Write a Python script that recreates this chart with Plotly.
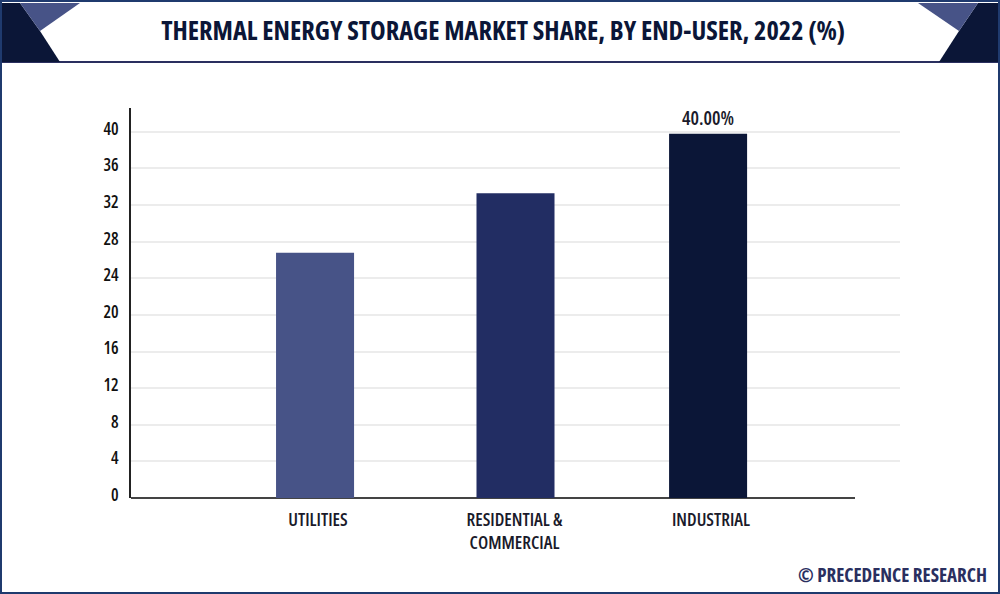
import plotly.graph_objects as go

categories = ['UTILITIES', 'RESIDENTIAL &<br>COMMERCIAL', 'INDUSTRIAL']
shares = [26.8, 33.3, 39.8]
bar_labels = ['', '', '40.00%']
bar_colors = ['#475387', '#222d63', '#0b1637']
y_ticks = [0, 4, 8, 12, 16, 20, 24, 28, 32, 36, 40]

title = 'THERMAL ENERGY STORAGE MARKET SHARE, BY END-USER, 2022 (%)'
credit = '© PRECEDENCE RESEARCH'

WIDTH = 1000
HEIGHT = 594
FONT = 'Open Sans'
DARK = '#0b1637'

# open sans is variable here, squeeze it to look like the narrow caps in the original
CONDENSE = """
document.body.style.margin = '0';
document.querySelectorAll('text').forEach(function (t) { t.style.fontStretch = '75%'; });
"""


def px(x, y):
    # page pixels to paper fractions, margins are zero
    return x / WIDTH, 1 - y / HEIGHT


def polygon(points, color):
    path = ''
    for i, (x, y) in enumerate(points):
        fx, fy = px(x, y)
        path += ('M' if i == 0 else 'L') + f'{fx:.4f},{fy:.4f} '
    return dict(type='path', path=path + 'Z', xref='paper', yref='paper',
                fillcolor=color, line_width=0, layer='above')


def line(x0, y0, x1, y1, color, width, layer='above'):
    ax, ay = px(x0, y0)
    bx, by = px(x1, y1)
    return dict(type='line', xref='paper', yref='paper', x0=ax, y0=ay, x1=bx, y1=by,
                line=dict(color=color, width=width), layer=layer)


fig = go.Figure(
    go.Bar(
        x=categories,
        y=shares,
        width=0.397,
        # the middle bar sits a little right of centre in the original
        offset=[-0.198, -0.178, -0.198],
        marker=dict(color=bar_colors, line_width=0),
        text=bar_labels,
        textposition='outside',
        textfont=dict(family=FONT, size=19, color='#1a1a2a', weight=600),
        cliponaxis=False,
    )
)

shapes = [
    # header
    line(0, 62, 1000, 62, '#2a2f5f', 2),
    polygon([(2, 3), (20, 3), (40, 31), (60, 62), (2, 62)], DARK),
    polygon([(20, 3), (80, 3), (40, 31)], '#475387'),
    polygon([(978, 3), (998, 3), (998, 62), (939, 62), (959, 31)], DARK),
    polygon([(918, 3), (978, 3), (959, 31)], '#475387'),
    # outer frame
    line(0, 1, 1000, 1, '#1f3a6e', 2),
    line(0, 593, 1000, 593, '#1f3a6e', 2),
    line(1, 0, 1, 594, '#1f3a6e', 2),
    line(999, 0, 999, 594, '#1f3a6e', 2),
    # dark baseline stops short of the grid
    line(131, 498, 855, 498, '#444444', 2, layer='below'),
]

tx, ty = px(503.5, 30)
cx, cy = px(892.5, 575)

fig.update_layout(
    width=WIDTH,
    height=HEIGHT,
    autosize=False,
    margin=dict(l=0, r=0, t=0, b=0),
    paper_bgcolor='white',
    plot_bgcolor='white',
    showlegend=False,
    shapes=shapes,
    annotations=[
        dict(text=title, x=tx, y=ty, xref='paper', yref='paper', showarrow=False,
             xanchor='center', yanchor='middle',
             font=dict(family=FONT, size=26.4, color=DARK, weight='bold')),
        dict(text=credit, x=cx, y=cy, xref='paper', yref='paper', showarrow=False,
             xanchor='center', yanchor='middle',
             font=dict(family=FONT, size=19, color='#2a2f5f', weight='bold')),
    ],
    xaxis=dict(
        domain=[0.131, 0.9],
        range=[-0.936, 2.977],
        automargin=False,
        showgrid=False,
        showline=False,
        zeroline=False,
        ticks='outside',
        ticklen=5,
        tickcolor='rgba(0,0,0,0)',
        ticklabelshift=3,
        tickfont=dict(family=FONT, size=18, color='#1a1a2a', weight=600),
    ),
    yaxis=dict(
        domain=[1 - 498 / HEIGHT, 1 - 108 / HEIGHT],
        range=[0, 42.6],
        automargin=False,
        tickvals=y_ticks,
        showgrid=True,
        gridcolor='#ececec',
        gridwidth=2,
        showline=True,
        linecolor='#222222',
        linewidth=2,
        zeroline=False,
        ticks='outside',
        ticklen=7,
        tickcolor='rgba(0,0,0,0)',
        ticklabelshift=-3,
        tickfont=dict(family=FONT, size=17, color='#111111', weight=600),
    ),
)

fig.write_html('out.html', config={'displayModeBar': False}, post_script=CONDENSE)
